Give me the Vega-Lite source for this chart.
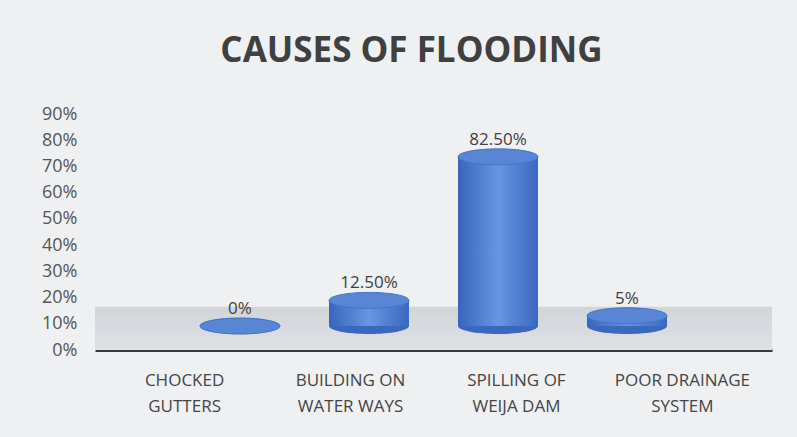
{
  "$schema": "https://vega.github.io/schema/vega-lite/v6.json",
  "width": 677,
  "height": 236,
  "autosize": {"type": "none"},
  "padding": {"left": 95, "top": 114, "right": 25, "bottom": 87},
  "background": "#eff0f2",
  "config": {"view": {"stroke": null}, "font": "Open Sans"},
  "title": {
    "text": "CAUSES OF FLOODING",
    "font": "Open Sans",
    "fontSize": 35,
    "fontWeight": "bold",
    "color": "#404040",
    "anchor": "middle",
    "dx": -22,
    "offset": 36
  },
  "data": {
    "values": [
      {"cause": "CHOCKED|GUTTERS", "share": 0, "label": "0%"},
      {"cause": "BUILDING ON|WATER WAYS", "share": 0.125, "label": "12.50%"},
      {"cause": "SPILLING OF|WEIJA DAM", "share": 0.825, "label": "82.50%"},
      {"cause": "POOR DRAINAGE|SYSTEM", "share": 0.05, "label": "5%"}
    ]
  },
  "layer": [
    {
      "data": {"values": [{"part": "floor"}]},
      "mark": {
        "type": "rect",
        "color": {
          "gradient": "linear",
          "x1": 0, "x2": 0, "y1": 0, "y2": 1,
          "stops": [
            {"offset": 0, "color": "#d1d4d9"},
            {"offset": 1, "color": "#dfe1e5"}
          ]
        }
      },
      "encoding": {
        "y": {"datum": 0, "type": "quantitative", "scale": {"domain": [0, 0.9], "nice": false}, "axis": null},
        "y2": {"datum": 0.165}
      }
    },
    {
      "mark": {"type": "bar", "opacity": 0},
      "encoding": {
        "x": {
          "field": "cause",
          "type": "nominal",
          "sort": null,
          "scale": {"paddingInner": 0.52, "paddingOuter": 0.3},
          "axis": {
            "title": null,
            "labelExpr": "split(datum.label, '|')",
            "labelAngle": 0,
            "labelFont": "Open Sans",
            "labelFontSize": 17,
            "labelColor": "#454545",
            "labelPadding": 22,
            "labelLineHeight": 26,
            "ticks": false,
            "domainColor": "#3a3a3a",
            "domainWidth": 3
          }
        },
        "y": {
          "field": "share",
          "type": "quantitative",
          "scale": {"domain": [0, 0.9], "nice": false},
          "axis": {
            "title": null,
            "values": [0, 0.1, 0.2, 0.3, 0.4, 0.5, 0.6, 0.7, 0.8, 0.9],
            "format": ".0%",
            "grid": false,
            "domain": false,
            "ticks": false,
            "labelFont": "Open Sans",
            "labelFontSize": 18,
            "labelColor": "#555555",
            "labelPadding": 18
          }
        }
      }
    },
    {
      "encoding": {
        "x": {
          "field": "cause",
          "type": "nominal",
          "sort": null,
          "axis": null,
          "scale": {"paddingInner": 0.38, "paddingOuter": 0.814}
        },
        "y": {
          "field": "share",
          "type": "quantitative",
          "axis": null,
          "scale": {"domain": [-0.117, 1.034], "nice": false, "zero": false}
        }
      },
      "layer": [
        {
          "mark": {
            "type": "point",
            "shape": "M -1 0 A 1 0.2 0 1 0 1 0 A 1 0.2 0 1 0 -1 0 Z",
            "size": 6400,
            "filled": true,
            "color": "#3a68bd",
            "opacity": 1
          },
          "encoding": {"y": {"datum": 0}}
        },
        {
          "mark": {
            "type": "bar",
            "color": {
              "gradient": "linear",
              "x1": 0, "x2": 1, "y1": 0, "y2": 0,
              "stops": [
                {"offset": 0, "color": "#3765bb"},
                {"offset": 0.5, "color": "#6796e2"},
                {"offset": 1, "color": "#3a68bf"}
              ]
            }
          }
        },
        {
          "mark": {
            "type": "point",
            "shape": "M -1 0 A 1 0.2 0 1 0 1 0 A 1 0.2 0 1 0 -1 0 Z",
            "size": 6400,
            "filled": true,
            "color": "#5886d6",
            "stroke": "#4473c4",
            "strokeWidth": 1,
            "opacity": 1
          }
        },
        {
          "mark": {
            "type": "text",
            "baseline": "bottom",
            "dy": -8,
            "font": "Open Sans",
            "fontSize": 17,
            "color": "#404040"
          },
          "encoding": {"text": {"field": "label"}}
        }
      ]
    }
  ],
  "resolve": {"scale": {"x": "independent", "y": "independent"}}
}
